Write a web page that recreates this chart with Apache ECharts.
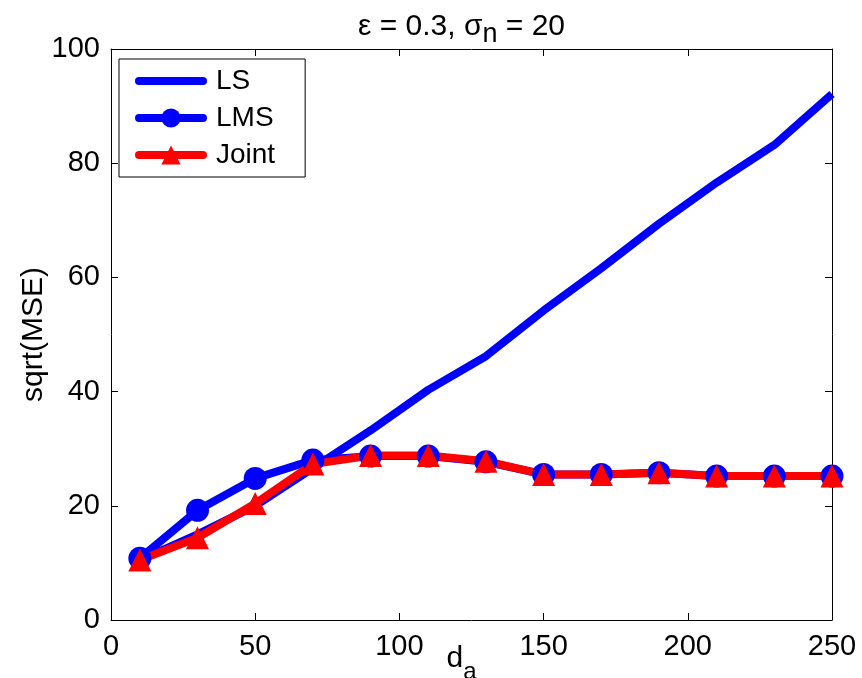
<!DOCTYPE html>
<html>
<head>
<meta charset="UTF-8">
<title>sqrt(MSE)</title>
<script src="https://cdn.jsdelivr.net/npm/echarts@6/dist/echarts.min.js"></script>
<style>
    html, body { margin: 0; padding: 0; background: #fff; }
    #main { width: 862px; height: 678px; }
</style>
</head>
<body>
<div id="main"></div>
<script>
    // d_a values
    var xs = [10, 30, 50, 70, 90, 110, 130, 150, 170, 190, 210, 230, 250];
    var ls = [10.5, 15, 20, 26.6, 33.2, 40.3, 46.2, 54.2, 61.6, 69.4, 76.6, 83.2, 92.1];
    var lms = [10.8, 19.2, 24.8, 28, 28.7, 28.7, 27.7, 25.5, 25.5, 25.8, 25.2, 25.2, 25.2];
    var joint = [10.5, 14.4, 20.4, 27.3, 28.8, 28.8, 27.8, 25.5, 25.5, 25.8, 25.2, 25.2, 25.2];

    function pairs(ys) {
        return xs.map(function (x, i) { return [x, ys[i]]; });
    }

    var font = 'Liberation Sans, Arial, sans-serif';
    var chart = echarts.init(document.getElementById('main'));

    // copy without labels for the ticks on the top / right side of the box
    function mirror(base, pos) {
        return Object.assign({}, base, {
            position: pos,
            name: '',
            axisLabel: { show: false }
        });
    }

    var xBase = {
        type: 'value', min: 0, max: 250, interval: 50,
        axisLine: { show: true, onZero: false, lineStyle: { color: '#000', width: 1 } },
        axisTick: { show: true, inside: true, length: 7, lineStyle: { color: '#000' } },
        axisLabel: { color: '#000', fontSize: 29, fontFamily: font, margin: 12 },
        splitLine: { show: false }
    };
    var yBase = {
        type: 'value', min: 0, max: 100, interval: 20,
        axisLine: { show: true, onZero: false, lineStyle: { color: '#000', width: 1 } },
        axisTick: { show: true, inside: true, length: 7, lineStyle: { color: '#000' } },
        axisLabel: { color: '#000', fontSize: 29, fontFamily: font, margin: 11 },
        splitLine: { show: false }
    };

    var option = {
        backgroundColor: '#fff',
        animation: false,
        title: {
            text: '{a|ε = 0.3, σ}{s|n}{a| = 20}',
            left: 353,
            top: 0,
            textStyle: {
                rich: {
                    a: { fontSize: 30, fontFamily: font, color: '#000', fontWeight: 'normal' },
                    s: { fontSize: 27, fontFamily: font, color: '#000', fontWeight: 'normal', padding: [16, 0, 0, 0] }
                }
            }
        },
        grid: { left: 111, right: 30, top: 49, bottom: 58, outerBoundsMode: 'none' },
        legend: {
            orient: 'vertical',
            left: 119,
            top: 59,
            padding: [7, 30, 7, 16],
            itemGap: 7,
            itemWidth: 64,
            itemHeight: 24,
            backgroundColor: '#fff',
            borderColor: '#000',
            borderWidth: 1,
            borderRadius: 0,
            lineStyle: { width: 8, cap: 'round' },
            textStyle: { fontSize: 28, lineHeight: 30, fontFamily: font, color: '#000', padding: [0, 0, 0, 8] },
            data: [
                { name: 'LS', itemStyle: { opacity: 0 } },
                'LMS',
                'Joint'
            ]
        },
        xAxis: [
            Object.assign({}, xBase, {
                position: 'bottom',
                name: '{a|d}{s|a}',
                nameLocation: 'middle',
                nameGap: 14,
                nameMoveOverlap: false,
                nameTextStyle: {
                    padding: [0, 20, 0, 0],
                    rich: {
                        a: { fontSize: 30, fontFamily: font, color: '#000' },
                        s: { fontSize: 24, fontFamily: font, color: '#000', padding: [26, 0, 0, 0] }
                    }
                }
            }),
            mirror(xBase, 'top')
        ],
        yAxis: [
            Object.assign({}, yBase, {
                position: 'left',
                name: 'sqrt(MSE)',
                nameLocation: 'middle',
                nameGap: 62,
                nameMoveOverlap: false,
                nameTextStyle: { fontSize: 30, fontFamily: font, color: '#000' }
            }),
            mirror(yBase, 'right')
        ],
        series: [
            {
                name: 'LS', type: 'line', data: pairs(ls),
                symbol: 'none',
                color: '#0000ff',
                lineStyle: { color: '#0000ff', width: 8 }
            },
            {
                name: 'LMS', type: 'line', data: pairs(lms),
                symbol: 'circle', symbolSize: 23,
                color: '#0000ff',
                itemStyle: { color: '#0000ff' },
                lineStyle: { color: '#0000ff', width: 8 }
            },
            {
                name: 'Joint', type: 'line', data: pairs(joint),
                symbol: 'triangle', symbolSize: 23,
                color: '#ff0000',
                itemStyle: { color: '#ff0000' },
                lineStyle: { color: '#ff0000', width: 8 }
            }
        ]
    };
    chart.setOption(option);
</script>
</body>
</html>
